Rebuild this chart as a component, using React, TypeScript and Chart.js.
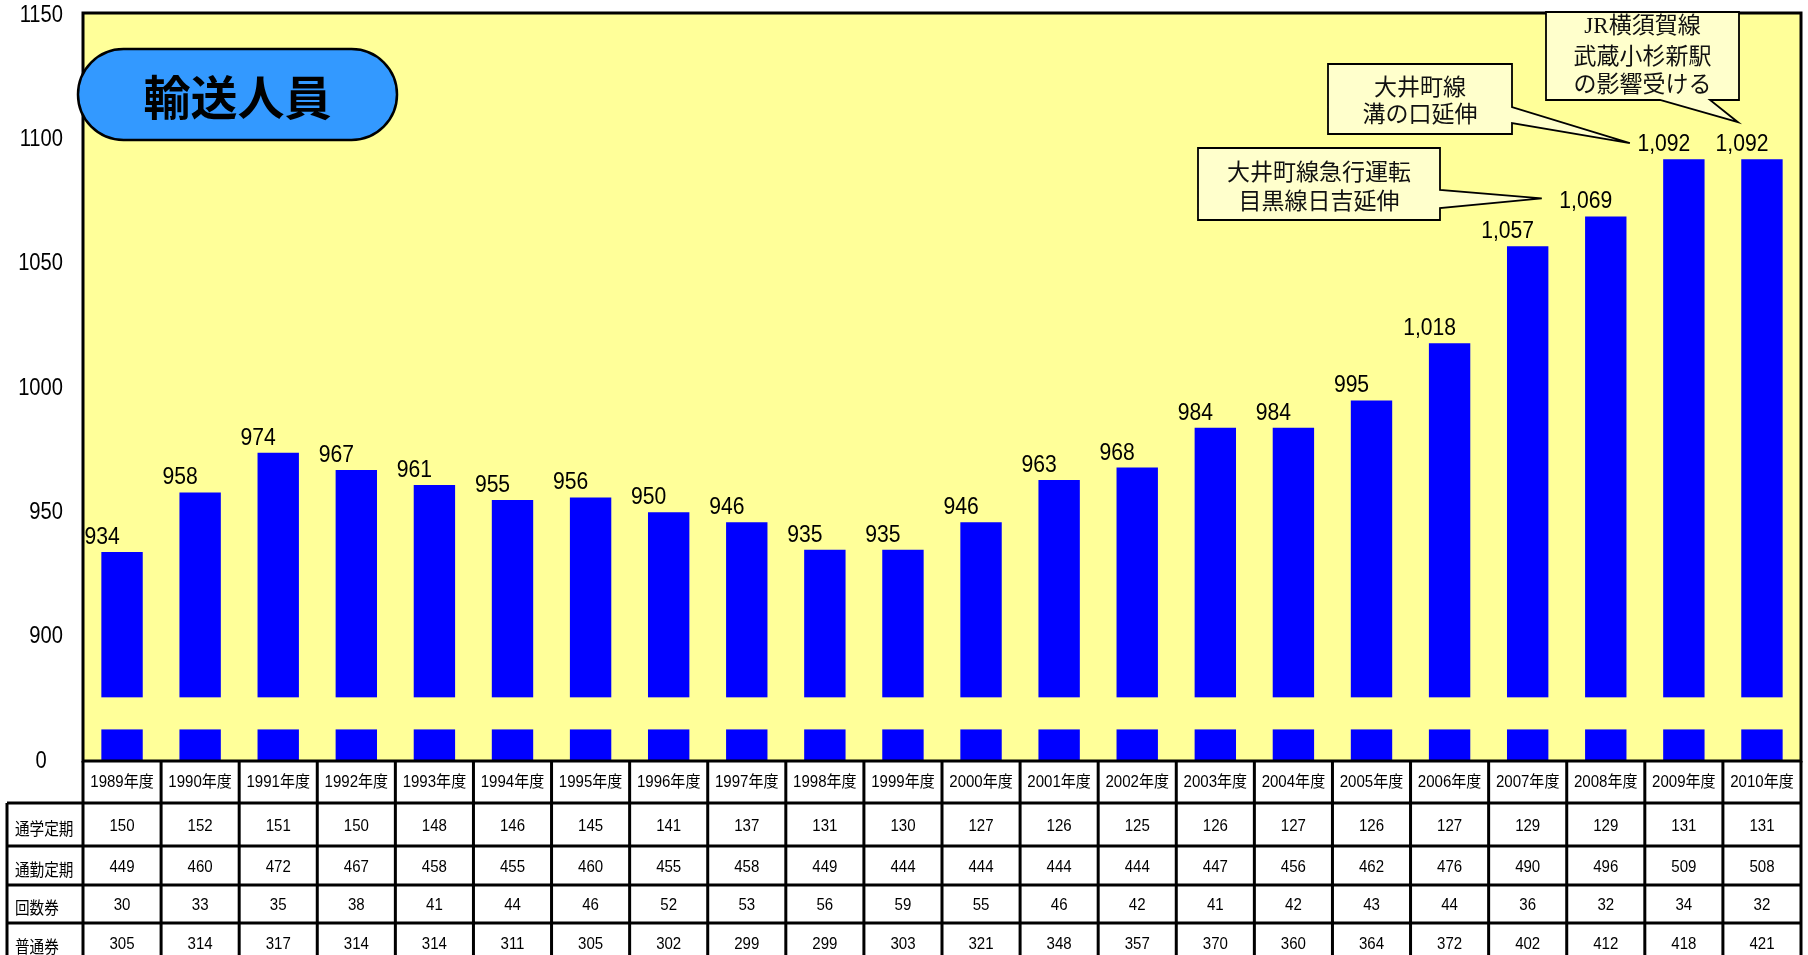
import React, { useEffect, useRef } from 'react';
import { Chart, registerables } from 'chart.js';

Chart.register(...registerables);

// ---------- data ----------
const YEARS = [
  '1989年度', '1990年度', '1991年度', '1992年度', '1993年度', '1994年度', '1995年度', '1996年度',
  '1997年度', '1998年度', '1999年度', '2000年度', '2001年度', '2002年度', '2003年度', '2004年度',
  '2005年度', '2006年度', '2007年度', '2008年度', '2009年度', '2010年度',
];
const TOTALS = [934, 958, 974, 967, 961, 955, 956, 950, 946, 935, 935, 946, 963, 968, 984, 984, 995, 1018, 1057, 1069, 1092, 1092];
const STUDENT_PASS = [150, 152, 151, 150, 148, 146, 145, 141, 137, 131, 130, 127, 126, 125, 126, 127, 126, 127, 129, 129, 131, 131];
const COMMUTER_PASS = [449, 460, 472, 467, 458, 455, 460, 455, 458, 449, 444, 444, 444, 444, 447, 456, 462, 476, 490, 496, 509, 508];
const COUPON_TICKETS = [30, 33, 35, 38, 41, 44, 46, 52, 53, 56, 59, 55, 46, 42, 41, 42, 43, 44, 36, 32, 34, 32];
const REGULAR_TICKETS = [305, 314, 317, 314, 314, 311, 305, 302, 299, 299, 303, 321, 348, 357, 370, 360, 364, 372, 402, 412, 418, 421];
const ROW_LABELS = ['通学定期', '通勤定期', '回数券', '普通券'];
const ROWS = [STUDENT_PASS, COMMUTER_PASS, COUPON_TICKETS, REGULAR_TICKETS];

// broken axis: the bottom of the axis stands for 0
const Y_TICKS = [850, 900, 950, 1000, 1050, 1100, 1150];
const Y_TICK_LABELS = ['0', '900', '950', '1000', '1050', '1100', '1150'];
const AXIS_MIN = 850;
const AXIS_MAX = 1150.8;
const BREAK_LOW = 862.7;
const BREAK_HIGH = 875.6;

const TITLE = '輸送人員';
const CALLOUTS = [
  { lines: ['大井町線急行運転', '目黒線日吉延伸'], bar: 19 },
  { lines: ['大井町線', '溝の口延伸'], bar: 20 },
  { lines: ['JR横須賀線', '武蔵小杉新駅', 'の影響受ける'], bar: 21 },
];

// ---------- styles ----------
const SANS = "'Liberation Sans', 'Noto Sans CJK JP', sans-serif";
const CJK = "'Noto Sans CJK JP', sans-serif";
const JR_FONT = "'Liberation Serif', 'Noto Sans CJK JP', serif";
const PLOT_BG = '#FFFF99';
const BAR_COLOR = '#0000FF';
const CALLOUT_BG = '#FFFFCC';
const PILL_BG = '#3399FF';

const W = 1808;
const H = 955;
const HEADER_H = 42;
const ROW_H = [43, 39, 38, 39];
const TABLE_LEFT = 7;

const fmt = (v: number) => (v >= 1000 ? v.toLocaleString('en-US') : String(v));

function squeezeText(ctx: CanvasRenderingContext2D, text: string, x: number, y: number, sx: number) {
  ctx.save();
  ctx.translate(x, y);
  ctx.scale(sx, 1);
  ctx.fillText(text, 0, 0);
  ctx.restore();
}

function drawCallout(ctx: CanvasRenderingContext2D, idx: number, tipX: number, tipY: number) {
  ctx.save();
  ctx.beginPath();
  if (idx === 0) {
    const l = 1198, t = 148, r = 1440, b = 220;
    ctx.moveTo(l, t); ctx.lineTo(r, t); ctx.lineTo(r, 190); ctx.lineTo(tipX, tipY); ctx.lineTo(r, 208);
    ctx.lineTo(r, b); ctx.lineTo(l, b); ctx.closePath();
  } else if (idx === 1) {
    const l = 1328, t = 64, r = 1512, b = 134;
    ctx.moveTo(l, t); ctx.lineTo(r, t); ctx.lineTo(r, 107); ctx.lineTo(tipX, tipY); ctx.lineTo(r, 123);
    ctx.lineTo(r, b); ctx.lineTo(l, b); ctx.closePath();
  } else {
    const l = 1546, t = 12, r = 1739, b = 100;
    ctx.moveTo(l, t); ctx.lineTo(r, t); ctx.lineTo(r, b); ctx.lineTo(1710, b); ctx.lineTo(tipX, tipY);
    ctx.lineTo(1660, b); ctx.lineTo(l, b); ctx.closePath();
  }
  ctx.fillStyle = CALLOUT_BG;
  ctx.fill();
  ctx.lineWidth = 1.8;
  ctx.strokeStyle = '#000';
  ctx.lineJoin = 'miter';
  ctx.stroke();

  ctx.fillStyle = '#111';
  ctx.textAlign = 'center';
  ctx.textBaseline = 'middle';
  const lines = CALLOUTS[idx].lines;
  let cx = 0;
  let ys: number[] = [];
  if (idx === 0) { cx = 1319; ys = [171, 200]; }
  else if (idx === 1) { cx = 1420; ys = [86, 113]; }
  else { cx = 1642.5; ys = [27, 55, 83]; }
  lines.forEach((line, i) => {
    ctx.font = `23px ${idx === 2 && i === 0 ? JR_FONT : CJK}`;
    ctx.fillText(line, cx, ys[i]);
  });
  ctx.restore();
}

const decorPlugin = {
  id: 'decor',
  beforeDatasetsDraw(chart: any) {
    const { ctx, chartArea: a } = chart;
    ctx.save();
    ctx.fillStyle = PLOT_BG;
    ctx.fillRect(a.left, a.top, a.right - a.left, a.bottom - a.top);
    ctx.restore();
  },
  afterDatasetsDraw(chart: any) {
    const { ctx, chartArea: a } = chart;
    const xs = chart.scales.x;
    const ys = chart.scales.y;
    ctx.save();

    // axis break band
    const yHi = ys.getPixelForValue(BREAK_HIGH);
    const yLo = ys.getPixelForValue(BREAK_LOW);
    ctx.fillStyle = PLOT_BG;
    ctx.fillRect(a.left, yHi, a.right - a.left, yLo - yHi);

    // y tick labels
    ctx.fillStyle = '#000';
    ctx.font = `24px ${SANS}`;
    ctx.textBaseline = 'middle';
    Y_TICKS.forEach((v, i) => {
      const py = ys.getPixelForValue(v);
      if (v === AXIS_MIN) {
        ctx.textAlign = 'center';
        squeezeText(ctx, Y_TICK_LABELS[i], 41, py, 0.84);
      } else {
        ctx.textAlign = 'right';
        squeezeText(ctx, Y_TICK_LABELS[i], 63, py, 0.84);
      }
    });

    // value labels
    const meta = chart.getDatasetMeta(0);
    ctx.fillStyle = '#000';
    ctx.font = `24px ${SANS}`;
    ctx.textAlign = 'center';
    ctx.textBaseline = 'alphabetic';
    meta.data.forEach((bar: any, i: number) => {
      squeezeText(ctx, fmt(TOTALS[i]), bar.x - 20, bar.y - 8, 0.88);
    });

    // data table
    const colW = xs.getPixelForValue(1) - xs.getPixelForValue(0);
    const top = a.bottom;
    const headerBottom = top + HEADER_H;
    const rowTops: number[] = [headerBottom];
    ROW_H.forEach((h) => rowTops.push(rowTops[rowTops.length - 1] + h));
    const tableBottom = rowTops[rowTops.length - 1];

    ctx.fillStyle = '#000';
    ctx.font = `16px ${SANS}`;
    ctx.textAlign = 'center';
    ctx.textBaseline = 'middle';
    YEARS.forEach((yr, i) => {
      const cx = xs.getPixelForValue(i);
      squeezeText(ctx, yr, cx, top + HEADER_H / 2 + 1, 0.94);
      ROWS.forEach((row, r) => {
        squeezeText(ctx, String(row[i]), cx, rowTops[r] + ROW_H[r] / 2 + 2, 0.94);
      });
    });
    ctx.textAlign = 'left';
    ctx.font = `17px ${CJK}`;
    ROW_LABELS.forEach((lab, r) => {
      squeezeText(ctx, lab, 15, rowTops[r] + ROW_H[r] / 2 + 4, 0.86);
    });

    ctx.strokeStyle = '#000';
    ctx.lineWidth = 3;
    ctx.beginPath();
    rowTops.forEach((y) => { ctx.moveTo(TABLE_LEFT, y); ctx.lineTo(a.right, y); });
    ctx.moveTo(TABLE_LEFT, headerBottom); ctx.lineTo(TABLE_LEFT, tableBottom);
    for (let i = 0; i <= YEARS.length; i++) {
      const bx = i === YEARS.length ? a.right : xs.getPixelForValue(i) - colW / 2;
      ctx.moveTo(bx, top); ctx.lineTo(bx, tableBottom);
    }
    ctx.stroke();

    // plot border
    ctx.lineWidth = 3;
    ctx.strokeRect(a.left, a.top, a.right - a.left, a.bottom - a.top);

    // title pill
    ctx.beginPath();
    (ctx as any).roundRect(78, 49, 319, 91, 45.5);
    ctx.fillStyle = PILL_BG;
    ctx.fill();
    ctx.lineWidth = 2.5;
    ctx.strokeStyle = '#000';
    ctx.stroke();
    ctx.fillStyle = '#000';
    ctx.font = `bold 47px ${CJK}`;
    ctx.textAlign = 'center';
    ctx.textBaseline = 'middle';
    ctx.fillText(TITLE, 237.5, 97);

    // callouts, tips anchored to bars
    const tipOffsets = [[-64, -18], [-54, -16], [-24, -37]];
    CALLOUTS.forEach((c, k) => {
      const bar = meta.data[c.bar];
      drawCallout(ctx, k, bar.x + tipOffsets[k][0], bar.y + tipOffsets[k][1]);
    });

    ctx.restore();
  },
};

export default function App() {
  const ref = useRef<HTMLCanvasElement | null>(null);
  useEffect(() => {
    if (!ref.current) return;
    const chart = new Chart(ref.current, {
      type: 'bar',
      data: {
        labels: YEARS,
        datasets: [
          {
            data: TOTALS,
            backgroundColor: BAR_COLOR,
            borderWidth: 0,
            barPercentage: 0.53,
            categoryPercentage: 1,
          },
        ],
      },
      options: {
        responsive: false,
        animation: false,
        devicePixelRatio: 1,
        layout: { padding: { left: 0, top: 13, right: 7, bottom: 194 } },
        plugins: { legend: { display: false }, tooltip: { enabled: false } },
        scales: {
          x: { display: false, grid: { display: false } },
          y: {
            min: AXIS_MIN,
            max: AXIS_MAX,
            afterBuildTicks: (s: any) => { s.ticks = Y_TICKS.map((v) => ({ value: v })); },
            afterFit: (s: any) => {
              s.width = 83;
              s.paddingTop = 0;
              s.paddingBottom = 0;
            },
            grid: { display: false, drawTicks: false },
            border: { display: false },
            ticks: { display: false },
          },
        },
      } as any,
      plugins: [decorPlugin],
    });
    return () => chart.destroy();
  }, []);
  return (
    <div style={{ position: 'absolute', left: 0, top: 0, width: W, height: H, overflow: 'hidden', background: '#fff' }}>
      <canvas ref={ref} width={W} height={H} style={{ width: W, height: H, display: 'block' }} />
    </div>
  );
}
